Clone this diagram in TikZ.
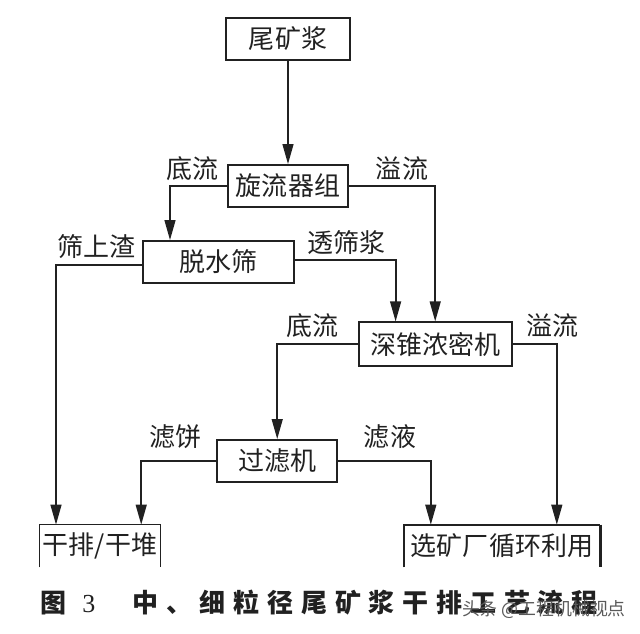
\documentclass[tikz,border=0pt]{standalone}
\usepackage{fontspec}
\setmainfont{Noto Sans CJK SC}
\newfontfamily\numfont{Liberation Serif}
\usetikzlibrary{positioning,arrows.meta}
\definecolor{myink}{rgb}{0.13, 0.13, 0.13}
\definecolor{mygray}{rgb}{0.35, 0.35, 0.35}
\tikzset{
  flowbox/.style={draw=myink, line width=1.3pt, text=myink, inner sep=0pt, align=center, minimum height=1.05cm},
  openbox/.style={text=myink, inner sep=0pt, align=center, minimum height=1.05cm},
  flowlabel/.style={text=myink, inner sep=0pt},
  flowline/.style={draw=myink, line width=1.3pt, -{Stealth[length=5mm, width=2.7mm, inset=0pt]}}
}

\begin{document}
\begin{tikzpicture}[font=\fontsize{18.5pt}{20pt}\selectfont]
\useasboundingbox (0,0) rectangle (16,-15.825);

% process boxes
\node[flowbox, minimum width=3.1cm] (tail) at (7.2,-0.975) {尾矿浆};
\node[flowbox, minimum width=3cm] (hub) at (7.2,-4.65) {旋流器组};
\node[flowbox, minimum width=3.78cm] (screen) at (5.46,-6.55) {脱水筛};
\node[flowbox, minimum width=3.83cm, minimum height=1.08cm] (thick) at (10.89,-8.6) {深锥浓密机};
\node[flowbox, minimum width=3cm] (press) at (6.93,-11.525) {过滤机};

% end boxes, no bottom edge
\node[openbox, minimum width=3cm] (dry) at (2.5,-13.65) {干排/干堆};
\node[openbox, minimum width=4.9cm] (reuse) at (12.55,-13.65) {选矿厂循环利用};
\draw[myink, line width=1pt] (dry.south west) |- (dry.north east) -- (dry.south east);
\draw[myink, line width=1.3pt] (reuse.south west) |- (reuse.north east);
\draw[myink, line width=2.2pt] (reuse.north east) -- (reuse.south east);

% connectors
\draw[flowline] (tail) -- (hub);
\draw[flowline] (hub.west) -| ([xshift=-1.21cm]screen.north);
\draw[flowline] (hub.east) -| ([xshift=-0.01cm]thick.north);
\draw[flowline] ([yshift=-0.07cm]screen.west) -| ([xshift=-1.1cm]dry.north);
\draw[flowline] ([yshift=0.04cm]screen.east) -| ([xshift=-1cm]thick.north);
\draw[flowline] (thick.west) -| (press.north);
\draw[flowline] (thick.east) -| ([xshift=1.37cm]reuse.north);
\draw[flowline] (press.west) -| ([xshift=1.03cm]dry.north);
\draw[flowline] (press.east) -| ([xshift=-1.78cm]reuse.north);

% stream labels
\node[flowlabel] (l1) at (4.82,-4.22) {底流};
\node[flowlabel] (l2) at (10.05,-4.22) {溢流};
\node[flowlabel] (l3) at (2.42,-6.17) {筛上渣};
\node[flowlabel] (l4) at (8.66,-6.07) {透筛浆};
\node[flowlabel] (l5) at (7.82,-8.15) {底流};
\node[flowlabel] (l6) at (13.82,-8.15) {溢流};
\node[flowlabel] (l7) at (4.38,-10.92) {滤饼};
\node[flowlabel] (l8) at (9.75,-10.92) {滤液};

% caption
\node[flowlabel, font=\fontsize{18.5pt}{20pt}\selectfont\bfseries, anchor=west] (fig) at (1,-15.07) {图\hspace{0.4cm}{\numfont\mdseries 3}};
\node[flowlabel, font=\fontsize{18.5pt}{20pt}\selectfont\bfseries\addfontfeature{LetterSpace=30}, anchor=west] (cap) at (3.3,-15.07) {中、细粒径尾矿浆干排工艺流程};

% watermark
\node[flowlabel, font=\fontsize{12.7pt}{14pt}\selectfont, text=mygray, anchor=east] (mark) at (15.65,-15.25) {头条 @工程机械视点};

\end{tikzpicture}
\end{document}
